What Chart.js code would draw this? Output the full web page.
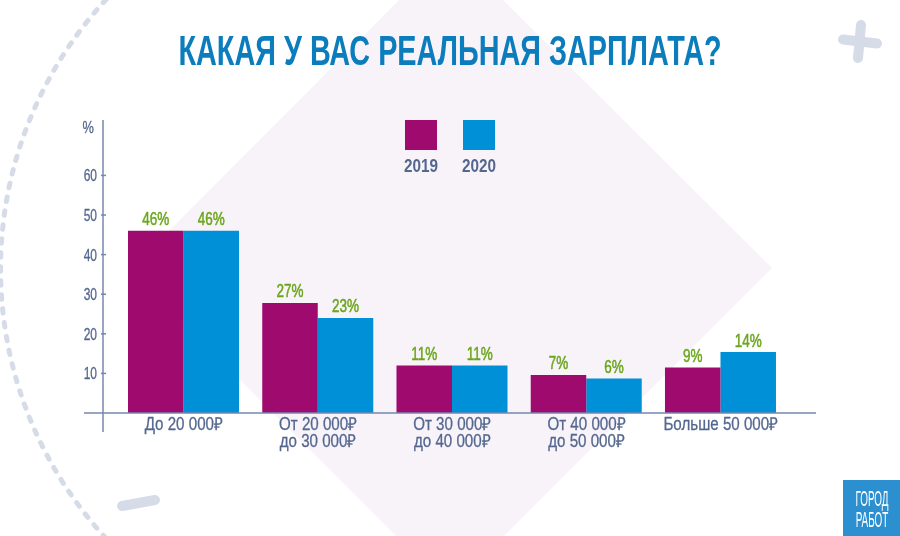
<!DOCTYPE html>
<html>
<head>
<meta charset="utf-8">
<style>
  html, body { margin: 0; padding: 0; background: #fff; }
  #wrap { width: 900px; height: 536px; }
</style>
<script src="https://cdn.jsdelivr.net/npm/chart.js@4"></script>
</head>
<body>
<div id="wrap"><canvas id="salaryChart" width="900" height="536"></canvas></div>
<script>
const titleText = 'КАКАЯ У ВАС РЕАЛЬНАЯ ЗАРПЛАТА?';
const categories = [
    ['До 20 000₽'],
    ['От 20 000₽', 'до 30 000₽'],
    ['От 30 000₽', 'до 40 000₽'],
    ['От 40 000₽', 'до 50 000₽'],
    ['Больше 50 000₽']
];
// bar heights as drawn in the picture (they differ a bit from the printed labels)
const values2019 = [46, 27.8, 12, 9.6, 11.5];
const values2020 = [46, 24, 12, 8.7, 15.4];
const labels2019 = ['46%', '27%', '11%', '7%', '9%'];
const labels2020 = ['46%', '23%', '11%', '6%', '14%'];
const yTicks = [10, 20, 30, 40, 50, 60];

const FONT = '"Liberation Sans", sans-serif';
const AXIS_COLOR = '#54678f';
const LINE_COLOR = '#7488ae';
const DECO_COLOR = '#d5dbe7';

function stroke(ctx, x1, y1, x2, y2, width, color) {
    ctx.beginPath();
    ctx.moveTo(x1, y1);
    ctx.lineTo(x2, y2);
    ctx.lineWidth = width;
    ctx.strokeStyle = color;
    ctx.stroke();
}

// No condensed face is installed, so squeeze the text horizontally
function narrowText(ctx, text, x, y, sx, heavy) {
    ctx.save();
    ctx.translate(x, y);
    ctx.scale(sx, 1);
    ctx.fillText(text, 0, 0);
    if (heavy) {
        ctx.lineWidth = heavy;
        ctx.strokeStyle = ctx.fillStyle;
        ctx.strokeText(text, 0, 0);
    }
    ctx.restore();
}

// Pink diamond, dashed arc, plus and dash behind the chart
const backdrop = {
    id: 'backdrop',
    beforeDraw(chart) {
        const ctx = chart.ctx;
        ctx.save();
        ctx.fillStyle = '#f8f3f9';
        ctx.beginPath();
        ctx.moveTo(130, 270);
        ctx.lineTo(451, -52);
        ctx.lineTo(772, 268);
        ctx.lineTo(450, 590);
        ctx.closePath();
        ctx.fill();

        ctx.lineCap = 'round';
        ctx.setLineDash([4.5, 9.5]);
        ctx.lineWidth = 5;
        ctx.strokeStyle = DECO_COLOR;
        ctx.beginPath();
        ctx.arc(397.6, 269, 397, Math.PI * 0.74, Math.PI * 1.26);
        ctx.stroke();
        ctx.setLineDash([]);

        stroke(ctx, 843, 39.5, 877, 43.5, 10, DECO_COLOR);
        stroke(ctx, 861, 25, 858, 58, 10, DECO_COLOR);
        stroke(ctx, 122, 506, 155, 500, 10, DECO_COLOR);
        ctx.restore();
    }
};

// Axis lines, all text, legend and logo on top of the bars
const overlay = {
    id: 'overlay',
    afterDatasetsDraw(chart) {
        const ctx = chart.ctx;
        const xScale = chart.scales.x;
        const yScale = chart.scales.y;
        const base = yScale.getPixelForValue(0);
        ctx.save();

        stroke(ctx, 84, base, 816, base, 1.5, LINE_COLOR);
        stroke(ctx, 103, 120, 103, 432, 1.5, LINE_COLOR);

        ctx.textBaseline = 'alphabetic';
        ctx.lineJoin = 'round';

        // title
        ctx.textAlign = 'center';
        ctx.fillStyle = '#0b7dbd';
        ctx.font = 'bold 43px ' + FONT;
        narrowText(ctx, titleText, 450, 65, 0.67);

        // y ticks
        ctx.textAlign = 'right';
        ctx.fillStyle = AXIS_COLOR;
        ctx.font = '16px ' + FONT;
        yTicks.forEach(t => {
            const py = yScale.getPixelForValue(t);
            stroke(ctx, 101, py, 106, py, 1.5, LINE_COLOR);
            narrowText(ctx, String(t), 97, py + 6, 0.75, 0.3);
        });
        narrowText(ctx, '%', 94, 133, 0.8, 0.3);

        // x tick labels
        ctx.textAlign = 'center';
        ctx.font = '18px ' + FONT;
        categories.forEach((lines, i) => {
            const px = xScale.getPixelForValue(i);
            lines.forEach((line, k) => {
                narrowText(ctx, line, px, 430 + k * 17, 0.84, 0.3);
            });
        });

        // value labels above the bars
        ctx.fillStyle = '#6aa61a';
        [labels2019, labels2020].forEach((labels, i) => {
            chart.getDatasetMeta(i).data.forEach((bar, j) => {
                narrowText(ctx, labels[j], bar.x, bar.y - 5.5, 0.75, 0.5);
            });
        });

        // legend, boxes above their labels
        ctx.font = 'bold 18px ' + FONT;
        [[405, 0], [463, 1]].forEach(([x, i]) => {
            const ds = chart.data.datasets[i];
            ctx.fillStyle = ds.backgroundColor;
            ctx.fillRect(x, 120, 32, 30);
            ctx.fillStyle = AXIS_COLOR;
            narrowText(ctx, ds.label, x + 16, 172, 0.85);
        });

        // logo
        ctx.fillStyle = '#2b8fd0';
        ctx.fillRect(843, 480, 57, 56);
        ctx.fillStyle = '#fff';
        ctx.font = '22px ' + FONT;
        narrowText(ctx, 'ГОРОД', 872, 506, 0.45);
        narrowText(ctx, 'РАБОТ', 872, 527, 0.45);
        ctx.restore();
    }
};

new Chart(document.getElementById('salaryChart'), {
    type: 'bar',
    data: {
        labels: categories,
        datasets: [
            { label: '2019', data: values2019, backgroundColor: '#9e0a6e' },
            { label: '2020', data: values2020, backgroundColor: '#0090d8' }
        ]
    },
    options: {
        responsive: false,
        animation: false,
        layout: { padding: { left: 0, right: 112.4, top: 120, bottom: 0 } },
        datasets: { bar: { barPercentage: 1, categoryPercentage: 0.827 } },
        plugins: {
            legend: { display: false },
            tooltip: { enabled: false },
            title: { display: false }
        },
        scales: {
            x: {
                grid: { display: false, drawTicks: false },
                border: { display: false },
                ticks: { display: false },
                afterFit(scale) { scale.height = 123; }
            },
            y: {
                min: 0,
                max: 74,
                grid: { display: false, drawTicks: false },
                border: { display: false },
                ticks: { display: false },
                afterFit(scale) { scale.width = 116.4; }
            }
        }
    },
    plugins: [backdrop, overlay]
});
</script>
</body>
</html>
